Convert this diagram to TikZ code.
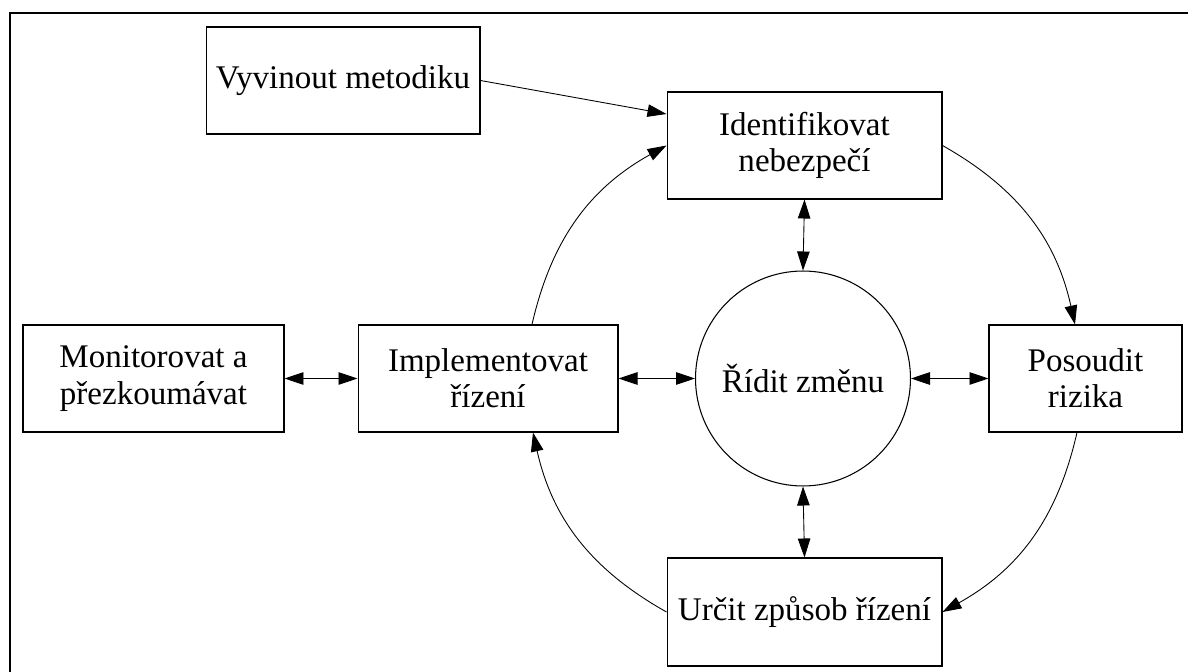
\documentclass[tikz,border=0pt]{standalone}
\usepackage{fontspec}
\setmainfont{Liberation Serif}
\usetikzlibrary{arrows.meta}
\begin{document}
\begin{tikzpicture}[x=0.02cm,y=-0.02cm,
  box/.style={draw, line width=0.6pt, inner sep=0pt, align=center, font=\fontsize{18.8}{20.6}\selectfont},
  conn/.style={line width=0.5pt, -{Triangle[length=3.8mm,width=2.5mm]}},
  dconn/.style={line width=0.5pt, {Triangle[length=3.8mm,width=2.5mm]}-{Triangle[length=3.8mm,width=2.5mm]}}]
\useasboundingbox (0,0) rectangle (1188,672);
\draw[line width=0.6pt] (10,700) -- (10,13) -- (1200,13);
\node[box, minimum width=5.48cm, minimum height=2.14cm] (vyv) at (343,80.5) {Vyvinout metodiku};
\node[box, minimum width=5.5cm, minimum height=2.14cm] (ident) at (804.5,145.5) {Identifikovat\\nebezpečí};
\node[box, minimum width=5.22cm, minimum height=2.14cm] (mon) at (153.5,378.5) {Monitorovat a\\přezkoumávat};
\node[box, minimum width=5.2cm, minimum height=2.14cm] (impl) at (488,378.5) {Implementovat\\řízení};
\node[box, circle, minimum size=4.3cm] (circ) at (803,378.5) {Řídit změnu};
\node[box, minimum width=3.86cm, minimum height=2.14cm] (pos) at (1085.5,378.5) {Posoudit\\rizika};
\node[box, minimum width=5.5cm, minimum height=2.16cm] (urc) at (804.5,612) {Určit způsob řízení};
\draw[conn] (vyv.east) -- ([yshift=0.63cm]ident.west);
\draw[conn] ([xshift=0.88cm]impl.north) to[bend left=24] (ident.west);
\draw[conn] (ident.east) to[bend left=24] ([xshift=-0.21cm]pos.north);
\draw[conn] ([xshift=-0.17cm]pos.south) to[bend left=24] (urc.east);
\draw[conn] (urc.west) to[bend left=24] ([xshift=0.9cm]impl.south);
\draw[dconn] (mon.east) -- (impl.west);
\draw[dconn] (impl.east) -- (circ.west);
\draw[dconn] (circ.east) -- (pos.west);
\draw[dconn] (ident.south) -- (circ.north);
\draw[dconn] (circ.south) -- (urc.north);
\end{tikzpicture}
\end{document}
